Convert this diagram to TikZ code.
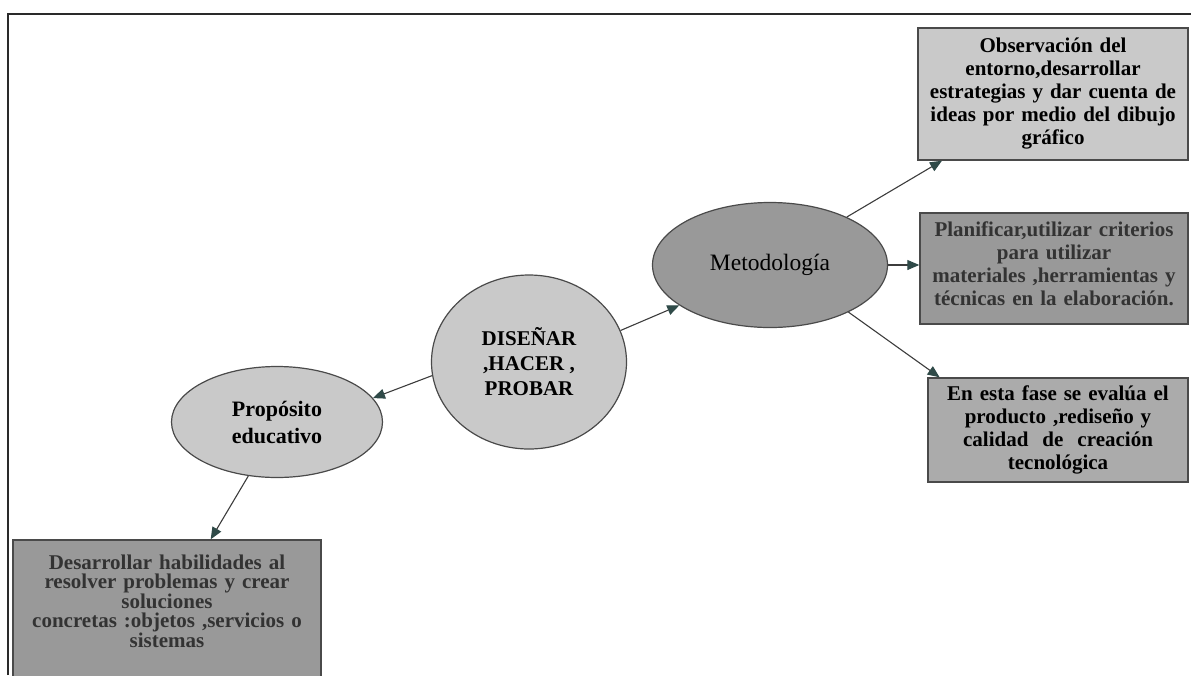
\documentclass[tikz,border=0pt]{standalone}
\usepackage{fontspec}
\setmainfont{Liberation Serif}
\usetikzlibrary{shapes.geometric,arrows.meta}
\definecolor{framec}{HTML}{2A2A2A}
\definecolor{edgec}{HTML}{4A4A4A}
\definecolor{linec}{HTML}{3C3C3C}
\definecolor{tipc}{HTML}{2F4A48}
\definecolor{lightfill}{HTML}{C9C9C9}
\definecolor{midfill}{HTML}{ABABAB}
\definecolor{darkfill}{HTML}{999999}
\definecolor{softtext}{HTML}{333333}

\tikzset{
  bubble/.style={ellipse, draw=edgec, line width=1.2pt, inner sep=0pt, align=center},
  infobox/.style={rectangle, draw=edgec, line width=1.4pt, inner sep=0pt, align=center,
    font=\fontsize{21}{23}\selectfont\bfseries},
  conn/.style={draw=linec, line width=1.1pt, -{Triangle[length=12pt,width=10pt,color=tipc]}}
}

\begin{document}
\begin{tikzpicture}[x=1pt,y=-1pt]
\useasboundingbox (0,0) rectangle (1191,675);

% outer frame (top and left edges)
\draw[framec, line width=1.4pt] (8,675) -- (8,14) -- (1191,14);

% central idea and its two branches
\node[bubble, fill=lightfill, minimum width=195pt, minimum height=174pt,
      font=\fontsize{21}{25}\selectfont\bfseries] (D) at (529,362)
  {DISEÑAR\\,HACER ,\\PROBAR};
\node[bubble, fill=lightfill, minimum width=211pt, minimum height=111pt,
      font=\fontsize{22}{27}\selectfont\bfseries] (P) at (277,422)
  {Propósito\\educativo};
\node[bubble, fill=darkfill, minimum width=235pt, minimum height=125pt,
      font=\fontsize{23.5}{27}\selectfont] (M) at (770,265)
  {Metodología};

% description boxes
\node[infobox, fill=lightfill, minimum width=270pt, minimum height=132pt,
      text width=266pt] (B1) at (1053,94)
  {Observación del\\entorno,desarrollar\\estrategias y dar cuenta de\\ideas por medio del dibujo\\gráfico};
\node[infobox, fill=darkfill, text=softtext, minimum width=268pt, minimum height=111pt,
      text width=264pt] (B2) at (1054,268.5)
  {Planificar,utilizar criterios\\para utilizar\\materiales ,herramientas y\\técnicas en la elaboración.\rule[-10pt]{0pt}{10pt}};
\node[infobox, fill=midfill, minimum width=260pt, minimum height=104pt,
      text width=256pt] (B3) at (1058,430)
  {En esta fase se evalúa el\\producto ,rediseño y\\calidad\ \ de\ \ creación\\tecnológica};
\node[infobox, fill=darkfill, text=softtext, minimum width=308pt, minimum height=150pt,
      text width=304pt, font=\fontsize{21}{19.5}\selectfont\bfseries] (B4) at (167,615)
  {Desarrollar habilidades al\\resolver problemas y crear\\soluciones\\concretas :objetos ,servicios o\\sistemas\rule[-28pt]{0pt}{28pt}};

% connectors
\draw[conn] (D.19) -- (M.204);
\draw[conn] (D.188) -- (P.14);
\draw[conn] (M.32) -- (B1.211);
\draw[conn] (M.east) -- (M.east -| B2.west);
\draw[conn] (M.-31) -- (B3.156);
\draw[conn] (P.242) -- (B4.60);
\end{tikzpicture}
\end{document}
